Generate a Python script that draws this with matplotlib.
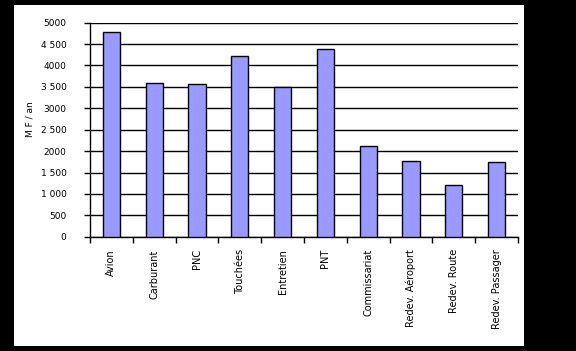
import matplotlib
matplotlib.use("Agg")
import matplotlib.pyplot as plt
from matplotlib.patches import Rectangle
import numpy as np

# Données (MF / an)
postes = ["Avion", "Carburant", "PNC", "Touchées", "Entretien", "PNT",
          "Commissariat", "Redev. Aéroport", "Redev. Route", "Redev. Passager"]
couts = [4790, 3600, 3560, 4215, 3505, 4395, 2110, 1775, 1200, 1740]

graduations = [0, 500, 1000, 1500, 2000, 2500, 3000, 3500, 4000, 4500, 5000]
etiquettes_y = ["0", "500", "1 000", "1 500", "2000", "2 500", "3000",
                "3 500", "4000", "4 500", "5000"]

fig = plt.figure(figsize=(5.76, 3.51), dpi=100)
fig.patch.set_facecolor("black")
# zone blanche du graphique
fig.patches.append(Rectangle((14 / 576, 5 / 351), 510 / 576, 341 / 351,
                             transform=fig.transFigure, facecolor="white",
                             edgecolor="none", zorder=-1))

ax = fig.add_axes([90 / 576, 114.3 / 351, 428 / 576, 214 / 351])
ax.set_zorder(1)
ax.set_facecolor("none")

x = np.arange(len(postes))
ax.bar(x, couts, width=0.4, color="#9999FF", edgecolor="black",
       linewidth=1, zorder=3)

ax.set_xlim(-0.5, len(postes) - 0.5)
ax.set_ylim(0, 5000)
ax.set_yticks(graduations)
ax.set_yticklabels(etiquettes_y, fontsize=6.5)
ax.yaxis.grid(True, color="black", linewidth=1)
ax.set_axisbelow(True)

# graduations x aux limites des catégories, étiquettes au centre
ax.set_xticks(np.arange(len(postes) + 1) - 0.5)
ax.set_xticklabels([])
ax.set_xticks(x, minor=True)
ax.set_xticklabels(postes, minor=True, rotation=90, fontsize=7,
                   va="top", ha="center")
ax.tick_params(axis="x", which="minor", length=0, pad=9)
ax.tick_params(axis="x", which="major", length=4, width=1, direction="out")
ax.tick_params(axis="y", length=4, width=1, direction="out", pad=13)

for s in ["top", "right"]:
    ax.spines[s].set_visible(False)
ax.spines["left"].set_linewidth(1)
ax.spines["bottom"].set_linewidth(1)

ax.set_ylabel("M F / an", fontsize=6.5, labelpad=4, y=0.55)

fig.savefig("out.png", dpi=100, facecolor=fig.get_facecolor())
